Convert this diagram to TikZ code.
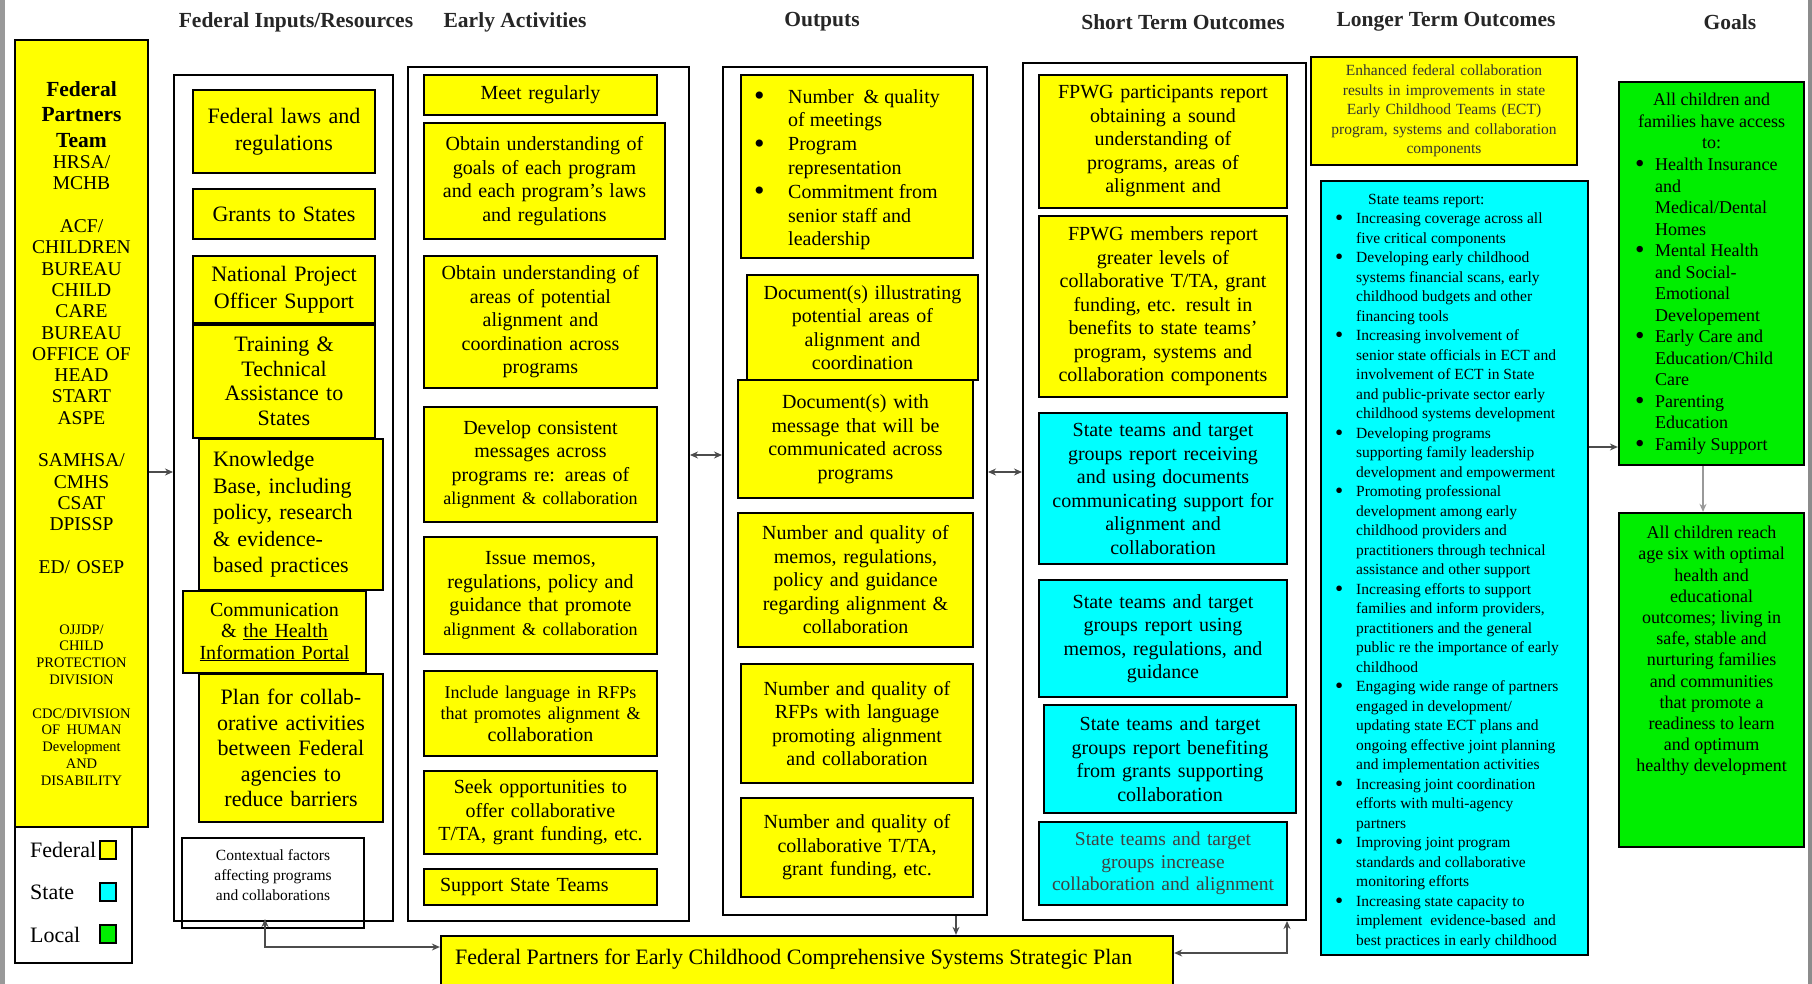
\documentclass[tikz,border=0pt]{standalone}
\usepackage{fontspec}
\setmainfont{Liberation Serif}
\usetikzlibrary{arrows.meta}
\definecolor{ggreen}{RGB}{0,238,0}
\definecolor{cyn}{RGB}{0,255,255}
\definecolor{ylw}{RGB}{255,255,0}
\newcommand\mybx[7]{%
  \pgfmathsetmacro\bxcx{(#3+#5)/2}%
  \pgfmathsetmacro\bxcy{(#4+#6)/2}%
  \pgfmathsetmacro\bxw{#5-#3}%
  \pgfmathsetmacro\bxh{#6-#4}%
  \pgfmathsetmacro\bxt{#5-#3-12}%
  \node[minimum width=\bxw pt, minimum height=\bxh pt, text width=\bxt pt, #1] (#2) at (\bxcx,\bxcy) {#7};%
}
\newcommand\bul[1]{\makebox[#1][l]{\raisebox{-0.12em}{\scalebox{1.5}{\textbullet}}}}
\newcommand\hng[1]{\hspace*{#1}}
\newcommand\fs[2]{\fontsize{#1}{#2}\selectfont}
\tikzset{
  bxbase/.style={draw, line width=2.3pt, align=center, inner sep=0pt},
  ybox/.style={bxbase, fill=ylw, font=\fs{20}{23.5}},
  cbox/.style={bxbase, fill=cyn, font=\fs{20}{23.5}},
  gbox/.style={bxbase, fill=ggreen},
  obox/.style={draw, line width=2pt, inner sep=0pt},
  inp/.style={ybox, font=\fs{22}{26.5}},
  hdr/.style={font=\bfseries\fs{21.5}{25}, text=black!85, inner sep=0pt},
  txt/.style={inner sep=0pt},
  conn/.style={line width=1.2pt, draw=black!70, arrows={-Stealth[length=8pt,width=7pt]}},
  conn2/.style={line width=1.2pt, draw=black!70, arrows={Stealth[length=8pt,width=7pt]-Stealth[length=8pt,width=7pt]}},
  lsq/.style={draw, line width=2pt, minimum width=16pt, minimum height=18pt, inner sep=0pt},
}
\begin{document}
\begin{tikzpicture}[x=1pt,y=-1pt]
\useasboundingbox (0,0) rectangle (1812,984);
\fill[white] (0,0) rectangle (1812,984);
\fill[black!40] (0,0) rectangle (5,984);
\fill[black!45] (1808,0) rectangle (1812,984);

% headers
\node[hdr] (h1) at (296,22) {Federal Inputs/Resources};
\node[hdr] (h2) at (515,22) {Early Activities};
\node[hdr] (h3) at (822,22) {Outputs};
\node[hdr] (h4) at (1183,22) {Short Term Outcomes};
\node[hdr] (h5) at (1446,22) {Longer Term Outcomes};
\node[hdr] (h6) at (1730,22) {Goals};

% outer boxes
\mybx{obox}{inputs}{174}{75}{393}{921}{}
\mybx{obox}{acts}{408}{67}{689}{921}{}
\mybx{obox}{outs}{723}{67}{987}{915}{}
\mybx{obox}{sto}{1023}{63}{1306}{920}{}

% federal partners team
\mybx{ybox, font=\fs{19.5}{21.3}}{fpt}{15}{40}{148}{827}{%
{\bfseries\fs{21.5}{25.5}Federal\\Partners\\Team\par}
{\fs{19.5}{21.3}HRSA/\\MCHB\\[21.3pt]ACF/\\CHILDREN\\BUREAU\\CHILD\\CARE\\BUREAU\\OFFICE OF\\HEAD\\START\\ASPE\\[21.3pt]SAMHSA/\\CMHS\\CSAT\\DPISSP\\[21.3pt]ED/ OSEP\par}
\vspace{44pt}
{\fs{14.5}{16.8}OJJDP/\\CHILD\\PROTECTION\\DIVISION\\[16.8pt]CDC/DIVISION\\OF HUMAN\\Development\\AND\\DISABILITY\par}}

% legend
\mybx{obox}{legend}{15}{827}{132}{963}{}
\node[txt, anchor=west, font=\fs{22}{26}] (lf) at (30,850) {Federal};
\node[lsq, fill=ylw] (sf) at (108,850) {};
\node[txt, anchor=west, font=\fs{22}{26}] (ls) at (30,892) {State};
\node[lsq, fill=cyn] (sc) at (108,892) {};
\node[txt, anchor=west, font=\fs{22}{26}] (ll) at (30,935) {Local};
\node[lsq, fill=ggreen] (sg) at (108,934) {};

% inputs
\mybx{inp}{laws}{193}{90}{375}{173}{Federal laws and\\regulations}
\mybx{inp}{grants}{193}{189}{375}{239}{Grants to States}
\mybx{inp}{npos}{193}{256}{375}{323}{National Project\\Officer Support}
\mybx{inp, font=\fs{22}{24.5}}{tta}{193}{325}{375}{438}{Training \&\\Technical\\Assistance to\\States}
\mybx{inp, align=left, text width=156pt}{kb}{199}{439}{383}{590}{Knowledge\\Base, including\\policy, research\\\& evidence-\\based practices}
\mybx{ybox, font=\fs{20}{21.5}}{comm}{183}{591}{366}{673}{Communication\\\& \underline{the Health}\\\underline{Information Portal}}
\mybx{inp, font=\fs{22}{25.5}}{plan}{199}{674}{383}{822}{Plan for collab-\\orative activities\\between Federal\\agencies to\\reduce barriers}
\mybx{obox, line width=1.5pt}{ctx}{182}{838}{364}{928}{}
\node[txt, anchor=north, align=center, font=\fs{15.5}{20}] (ctxt) at (273,849) {Contextual factors\\affecting programs\\and collaborations};

% activities
\mybx{ybox}{meet}{424}{75}{657}{115}{Meet regularly}
\mybx{ybox}{goals}{424}{123}{665}{239}{Obtain understanding of\\goals of each program\\and each program's laws\\and regulations}
\mybx{ybox}{areas}{424}{256}{657}{388}{Obtain understanding of\\areas of potential\\alignment and\\coordination across\\programs}
\mybx{ybox}{msgs}{424}{407}{657}{522}{Develop consistent\\messages across\\programs re: areas of\\{\fs{18}{23.5}alignment \& collaboration}}
\mybx{ybox}{memos}{424}{537}{657}{654}{Issue memos,\\regulations, policy and\\guidance that promote\\{\fs{18}{23.5}alignment \& collaboration}}
\mybx{ybox, font=\fs{20}{21.5}}{rfps}{424}{671}{657}{756}{{\fs{18}{21.5}Include language in RFPs\\that promotes alignment \&}\\collaboration}
\mybx{ybox}{seek}{424}{771}{657}{854}{Seek opportunities to\\offer collaborative\\T/TA, grant funding, etc.}
\mybx{ybox, align=left, text width=201pt}{sst}{424}{869}{657}{905}{Support State Teams}

% outputs
\mybx{ybox}{num}{741}{75}{973}{258}{}
\node[txt, anchor=north west, align=left, font=\fs{20}{23.8}] (numt) at (754,89) {\bul{34pt}Number \ \& quality\\\hng{34pt}of meetings\\\bul{34pt}Program\\\hng{34pt}representation\\\bul{34pt}Commitment from\\\hng{34pt}senior staff and\\\hng{34pt}leadership};
\mybx{ybox}{docill}{747}{275}{978}{380}{Document(s) illustrating\\potential areas of\\alignment and\\coordination}
\mybx{ybox}{docmsg}{738}{380}{973}{498}{Document(s) with\\message that will be\\communicated across\\programs}
\mybx{ybox}{nmemo}{738}{513}{973}{647}{Number and quality of\\memos, regulations,\\policy and guidance\\regarding alignment \&\\collaboration}
\mybx{ybox}{nrfp}{741}{664}{973}{783}{Number and quality of\\RFPs with language\\promoting alignment\\and collaboration}
\mybx{ybox}{ntta}{741}{798}{973}{897}{Number and quality of\\collaborative T/TA,\\grant funding, etc.}

% short term
\mybx{ybox}{fpwgp}{1039}{75}{1287}{208}{FPWG participants report\\obtaining a sound\\understanding of\\programs, areas of\\alignment and}
\mybx{ybox}{fpwgm}{1039}{216}{1287}{397}{FPWG members report\\greater levels of\\collaborative T/TA, grant\\funding, etc. result in\\benefits to state teams'\\program, systems and\\collaboration components}
\mybx{cbox}{strec}{1039}{413}{1287}{564}{State teams and target\\groups report receiving\\and using documents\\communicating support for\\alignment and\\collaboration}
\mybx{cbox}{stuse}{1039}{580}{1287}{697}{State teams and target\\groups report using\\memos, regulations, and\\guidance}
\mybx{cbox}{stben}{1044}{705}{1296}{813}{State teams and target\\groups report benefiting\\from grants supporting\\collaboration}
\mybx{cbox, font=\fs{19.5}{22.5}, text=black!75}{stinc}{1039}{822}{1287}{905}{State teams and target\\groups increase\\collaboration and alignment}

% longer term
\mybx{ybox, font=\fs{15.5}{19.5}, text=black!80}{enh}{1311}{57}{1577}{165}{Enhanced federal collaboration\\results in improvements in state\\Early Childhood Teams (ECT)\\program, systems and collaboration\\components}
\mybx{cbox}{str}{1321}{181}{1588}{955}{}
\node[txt, anchor=north west, align=left, font=\fs{15.5}{19.5}] (strt) at (1335,194) {%
\hng{33pt}State teams report:\\
\bul{21pt}Increasing coverage across all\\\hng{21pt}five critical components\\
\bul{21pt}Developing early childhood\\\hng{21pt}systems financial scans, early\\\hng{21pt}childhood budgets and other\\\hng{21pt}financing tools\\
\bul{21pt}Increasing involvement of\\\hng{21pt}senior state officials in ECT and\\\hng{21pt}involvement of ECT in State\\\hng{21pt}and public-private sector early\\\hng{21pt}childhood systems development\\
\bul{21pt}Developing programs\\\hng{21pt}supporting family leadership\\\hng{21pt}development and empowerment\\
\bul{21pt}Promoting professional\\\hng{21pt}development among early\\\hng{21pt}childhood providers and\\\hng{21pt}practitioners through technical\\\hng{21pt}assistance and other support\\
\bul{21pt}Increasing efforts to support\\\hng{21pt}families and inform providers,\\\hng{21pt}practitioners and the general\\\hng{21pt}public re the importance of early\\\hng{21pt}childhood\\
\bul{21pt}Engaging wide range of partners\\\hng{21pt}engaged in development/\\\hng{21pt}updating state ECT plans and\\\hng{21pt}ongoing effective joint planning\\\hng{21pt}and implementation activities\\
\bul{21pt}Increasing joint coordination\\\hng{21pt}efforts with multi-agency\\\hng{21pt}partners\\
\bul{21pt}Improving joint program\\\hng{21pt}standards and collaborative\\\hng{21pt}monitoring efforts\\
\bul{21pt}Increasing state capacity to\\\hng{21pt}implement \ evidence-based \ and\\\hng{21pt}best practices in early childhood};

% goals
\mybx{gbox}{g1}{1619}{82}{1804}{465}{}
\node[txt, anchor=north, align=center, font=\fs{18}{21.5}] (g1h) at (1711.5,93) {All children and\\families have access\\to:};
\node[txt, anchor=north west, align=left, font=\fs{18}{21.5}] (g1t) at (1635,158) {\bul{20pt}Health Insurance\\\hng{20pt}and\\\hng{20pt}Medical/Dental\\\hng{20pt}Homes\\\bul{20pt}Mental Health\\\hng{20pt}and Social-\\\hng{20pt}Emotional\\\hng{20pt}Developement\\\bul{20pt}Early Care and\\\hng{20pt}Education/Child\\\hng{20pt}Care\\\bul{20pt}Parenting\\\hng{20pt}Education\\\bul{20pt}Family Support};
\mybx{gbox}{g2}{1619}{513}{1804}{847}{}
\node[txt, anchor=north, align=center, font=\fs{18}{21.2}] (g2t) at (1711.5,526) {All children reach\\age six with optimal\\health and\\educational\\outcomes; living in\\safe, stable and\\nurturing families\\and communities\\that promote a\\readiness to learn\\and optimum\\healthy development};

% strategic plan
\mybx{ybox}{sp}{441}{936}{1173}{994}{}
\node[txt, anchor=west, font=\fs{22}{25}] (spt) at (455,959) {Federal Partners for Early Childhood Comprehensive Systems Strategic Plan};

% connectors
\coordinate (r1) at (0,472);
\coordinate (r2) at (0,455);
\coordinate (r3) at (0,953);
\coordinate (r4) at (0,947);
\coordinate (r5) at (0,447);
\coordinate (c1) at (956,0);
\coordinate (c2) at (1287,0);
\coordinate (c3) at (1703,0);
\coordinate (ctxin) at (265,919);
\draw[conn] (fpt.east |- r1) -- (inputs.west |- r1);
\draw[conn2] (acts.east |- r2) -- (outs.west |- r2);
\draw[conn2] (outs.east |- r1) -- (sto.west |- r1);
\draw[conn] (outs.south -| c1) -- (sp.north -| c1);
\draw[conn2] (sp.east |- r3) -| (sto.south -| c2);
\draw[conn2] (sp.west |- r4) -| (ctxin);
\draw[conn] (str.east |- r5) -- (g1.west |- r5);
\draw[conn, draw=black!40] (g1.south -| c3) -- (g2.north -| c3);
\end{tikzpicture}
\end{document}
